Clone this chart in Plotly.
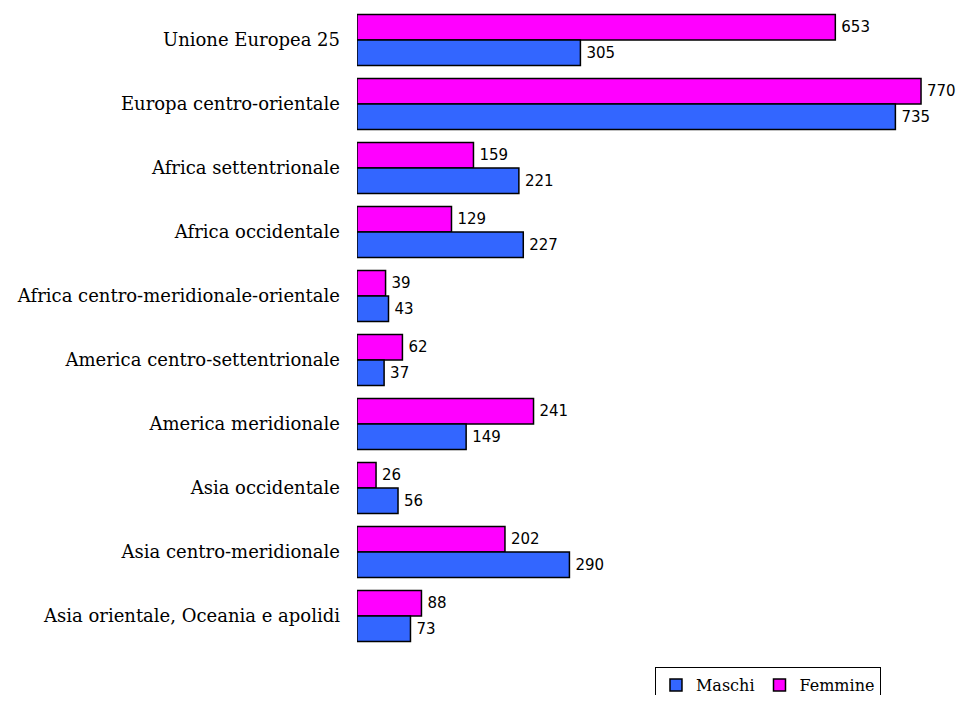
import plotly.graph_objects as go

categories = [
    "Unione Europea 25",
    "Europa centro-orientale",
    "Africa settentrionale",
    "Africa occidentale",
    "Africa centro-meridionale-orientale",
    "America centro-settentrionale",
    "America meridionale",
    "Asia occidentale",
    "Asia centro-meridionale",
    "Asia orientale, Oceania e apolidi",
]
femmine = [653, 770, 159, 129, 39, 62, 241, 26, 202, 88]
maschi = [305, 735, 221, 227, 43, 37, 149, 56, 290, 73]

label_font = dict(family="DejaVu Sans", size=15, color="black")

fig = go.Figure()
fig.add_trace(go.Bar(
    y=categories, x=femmine, name="Femmine", orientation="h",
    marker=dict(color="#FF00FF", line=dict(color="black", width=1.5)),
    text=["\u2009" + str(v) for v in femmine], textposition="outside",
    textfont=label_font, cliponaxis=False,
))
fig.add_trace(go.Bar(
    y=categories, x=maschi, name="Maschi", orientation="h",
    marker=dict(color="#3366FF", line=dict(color="black", width=1.5)),
    text=["\u2009" + str(v) for v in maschi], textposition="outside",
    textfont=label_font, cliponaxis=False,
))

fig.update_layout(
    width=950, height=687,
    margin=dict(l=349, r=15, t=0, b=47, autoexpand=False),
    barmode="group", bargap=0.2, bargroupgap=0,
    plot_bgcolor="white", paper_bgcolor="white",
    showlegend=True,
    legend=dict(
        orientation="h", traceorder="reversed",
        x=0.5085, y=-0.030, xanchor="left", yanchor="top",
        bordercolor="black", borderwidth=1,
        font=dict(family="DejaVu Serif", size=16, color="black"),
        itemwidth=30,
    ),
    xaxis=dict(range=[0, 800], showgrid=False, showticklabels=False,
               zeroline=False, showline=False, ticks="", automargin=False),
    yaxis=dict(autorange="reversed", showgrid=False, showline=False,
               ticks="", ticklabelstandoff=16, automargin=False,
               tickfont=dict(family="DejaVu Serif", size=18, color="black")),
)

fig.write_html("out.html")
